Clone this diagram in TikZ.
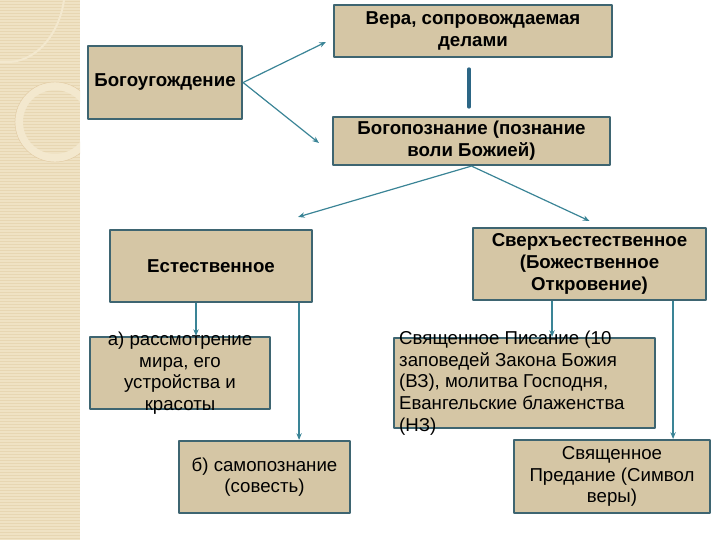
\documentclass[tikz,border=0pt]{standalone}
\usepackage{fontspec}
\setmainfont{Liberation Sans}
\usetikzlibrary{arrows.meta,calc}
\definecolor{boxfill}{HTML}{D5C6A5}
\definecolor{boxline}{HTML}{3E6571}
\definecolor{linkc}{HTML}{3A8496}
\definecolor{tiec}{HTML}{2C6685}
\definecolor{strip}{HTML}{EFE2C4}
\definecolor{stripln}{HTML}{E7D6B2}
\definecolor{decor}{HTML}{F3E8CE}

\begin{document}
\begin{tikzpicture}[x=.75pt,y=-.75pt,line join=round,
  box/.style={draw=boxline,line width=1.6pt,fill=boxfill,inner sep=0pt},
  topt/.style={font=\bfseries\fontsize{14}{16.5}\selectfont,align=center},
  lowt/.style={font=\fontsize{14}{16.2}\selectfont,align=center,inner sep=0pt},
  link/.style={-{Stealth[length=5pt,width=4pt]},linkc,line width=.9pt},
  tie/.style={tiec,line width=2.6pt,line cap=round}]
  \useasboundingbox (0,0) rectangle (720,540);

  % left strip
  \fill[strip] (0,0) rectangle (80,540);
  \foreach \y in {1,4,...,540}
    \draw[stripln,line width=.6pt] (0,\y)--(80,\y);
  \begin{scope}
    \clip (0,0) rectangle (80,540);
    \draw[decor,line width=1.5pt] (0,62)--(10,62)
      .. controls (40,60) and (60,30) .. (64,0);
    \draw[decor,line width=6pt] (55,122) circle[radius=36];
    \draw[stripln!85!brown,line width=.3pt] (55,122) circle[radius=40];
  \end{scope}

  % boxes
  \node[box,topt,minimum width=208.5pt,minimum height=39pt] (ver) at (473,31)
    {Вера, сопровождаемая\\делами};
  \node[box,topt,minimum width=115.5pt,minimum height=54.75pt] (bg) at (165,82.5)
    {Богоугождение};
  \node[box,topt,minimum width=207.75pt,minimum height=36pt] (bgp) at (471.5,141)
    {Богопознание (познание\\воли Божией)};
  \node[box,topt,minimum width=151.5pt,minimum height=54pt] (est) at (211,266)
    {Естественное};
  \node[box,topt,minimum width=174.75pt,minimum height=54pt] (sv) at (589.5,264)
    {Сверхъестественное\\(Божественное\\Откровение)};

  \node[box,minimum width=135pt,minimum height=54pt] (ra) at (180,373) {};
  \node[lowt] (ra-t) at (ra.center)
    {а) рассмотрение\\мира, его\\устройства и\\красоты};
  \node[box,lowt,minimum width=128.25pt,minimum height=54pt] (sam) at (264.5,477)
    {б) самопознание\\(совесть)};
  \node[box,minimum width=195.75pt,minimum height=67.5pt] (pis) at (524.5,383) {};
  \node[lowt,align=left,anchor=west] (pis-t) at ([xshift=4.5pt]pis.west)
    {Священное Писание (10\\заповедей Закона Божия\\(ВЗ), молитва Господня,\\Евангельские блаженства\\(НЗ)};
  \node[box,lowt,minimum width=147pt,minimum height=54.75pt] (pre) at (612,476.5)
    {Священное\\Предание (Символ\\веры)};

  % connectors
  \coordinate (ver-in) at ($(ver.west)+(-7,11)$);
  \coordinate (bgp-in) at ($(bgp.west)+(-13,2)$);
  \coordinate (est-in) at ($(est.north east)+(-15,-12)$);
  \coordinate (sv-in) at ($(sv.north)+(0,-6)$);
  \draw[link] (bg.east)--(ver-in);
  \draw[link] (bg.east)--(bgp-in);
  \draw[tie,shorten <=8.25pt,shorten >=6.75pt] ([xshift=-3pt]ver.south)
    --([xshift=-3pt]ver.south |- bgp.north);
  \draw[link] (bgp.south)--(est-in);
  \draw[link] (bgp.south)--(sv-in);
  \draw[link] ([xshift=-11.25pt]est.south)--([xshift=-11.25pt]est.south |- ra.north);
  \draw[link] ([xshift=-10.5pt]est.south east)--([xshift=-10.5pt]est.south east |- sam.north);
  \draw[link] ([xshift=-28.1pt]sv.south)--([xshift=-28.1pt]sv.south |- pis.north);
  \draw[link] ([xshift=-25.5pt]sv.south east)--([xshift=-25.5pt]sv.south east |- pre.north);
\end{tikzpicture}
\end{document}
